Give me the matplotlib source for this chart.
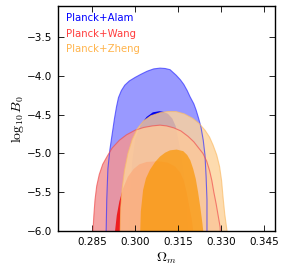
import matplotlib
matplotlib.use('Agg')
import matplotlib.pyplot as plt

plt.rcParams['mathtext.fontset'] = 'cm'

# contour boundaries (Omega_m, log10 B0)
alam_2s_x = [0.2899, 0.2899, 0.2901, 0.2905, 0.2912, 0.2920, 0.2928, 0.2935, 0.2942, 0.2952, 0.2964, 0.2980,
             0.3000, 0.3020, 0.3042, 0.3065, 0.3087, 0.3105, 0.3122, 0.3143, 0.3158, 0.3170, 0.3182, 0.3192,
             0.3205, 0.3213, 0.3222, 0.3230, 0.3238, 0.3244, 0.3248, 0.3251, 0.3251, 0.3251]
alam_2s_y = [-6.2, -6.0, -5.6, -5.2, -4.95, -4.75, -4.55, -4.40, -4.28, -4.19, -4.12, -4.065,
             -4.02, -3.98, -3.94, -3.91, -3.90, -3.905, -3.92, -3.99, -4.05, -4.11, -4.19, -4.27,
             -4.36, -4.44, -4.55, -4.66, -4.83, -5.02, -5.3, -5.6, -6.0, -6.2]
alam_1s_x = [0.2978, 0.2978, 0.2982, 0.2990, 0.3000, 0.3018, 0.3040, 0.3062, 0.3085, 0.3100, 0.3115,
             0.3130, 0.3142, 0.3150, 0.3160, 0.3172, 0.3182, 0.3185, 0.3185]
alam_1s_y = [-6.2, -6.0, -5.5, -5.1, -4.82, -4.64, -4.53, -4.47, -4.455, -4.465, -4.49,
             -4.55, -4.65, -4.8, -5.0, -5.3, -5.65, -6.0, -6.2]

wang_2s_x = [0.2850, 0.2853, 0.2856, 0.2860, 0.2866, 0.2875, 0.2887, 0.2902, 0.2920, 0.2945, 0.2970,
             0.3000, 0.3030, 0.3060, 0.3087, 0.3110, 0.3135, 0.3160, 0.3185, 0.3205, 0.3222, 0.3237,
             0.3250, 0.3260, 0.3268, 0.3275, 0.3283, 0.3290, 0.3297, 0.3300]
wang_2s_y = [-6.2, -6.0, -5.8, -5.6, -5.42, -5.27, -5.14, -5.04, -4.93, -4.83, -4.76,
             -4.70, -4.665, -4.645, -4.635, -4.645, -4.67, -4.71, -4.78, -4.85, -4.93, -5.0,
             -5.1, -5.22, -5.35, -5.5, -5.65, -5.8, -5.95, -6.2]
wang_1s_x = [0.2928, 0.2930, 0.2936, 0.2945, 0.2958, 0.2975, 0.2995, 0.3015, 0.3040, 0.3080, 0.3115,
             0.3140, 0.3158, 0.3170, 0.3180, 0.3190, 0.3198, 0.3203, 0.3203]
wang_1s_y = [-6.2, -6.0, -5.8, -5.62, -5.45, -5.3, -5.2, -5.14, -5.11, -5.10, -5.12,
             -5.17, -5.25, -5.35, -5.5, -5.7, -5.85, -6.0, -6.2]

zheng_2s_x = [0.2948, 0.2948, 0.2950, 0.2955, 0.2963, 0.2975, 0.2990, 0.3008, 0.3030, 0.3055, 0.3087,
              0.3115, 0.3143, 0.3172, 0.3202, 0.3225, 0.3244, 0.3260, 0.3272, 0.3285, 0.3295, 0.3302,
              0.3307, 0.3313, 0.3321, 0.3321]
zheng_2s_y = [-6.2, -6.0, -5.7, -5.45, -5.22, -5.0, -4.82, -4.68, -4.58, -4.515, -4.475,
              -4.46, -4.46, -4.49, -4.55, -4.62, -4.70, -4.79, -4.89, -5.02, -5.17, -5.35,
              -5.56, -5.78, -6.0, -6.2]
zheng_1s_x = [0.3018, 0.3018, 0.3020, 0.3028, 0.3038, 0.3052, 0.3070, 0.3087, 0.3105, 0.3122, 0.3145,
              0.3168, 0.3182, 0.3193, 0.3203, 0.3212, 0.3220, 0.3228, 0.3235, 0.3238, 0.3238]
zheng_1s_y = [-6.2, -6.0, -5.75, -5.47, -5.32, -5.21, -5.11, -5.04, -4.99, -4.96, -4.95,
              -4.97, -5.02, -5.09, -5.2, -5.33, -5.5, -5.7, -5.9, -6.0, -6.2]

labels = ['Planck+Alam', 'Planck+Wang', 'Planck+Zheng']
label_colors = ['#0000ff', '#ff3c3c', '#ffb44c']

fig = plt.figure(figsize=(2.86, 2.76), dpi=100)
ax = fig.add_axes([0.203, 0.163, 0.758, 0.815])

# (outer x, outer y, inner x, inner y, outer fill, inner fill, edge, outer alpha, inner alpha)
sets = [
    (alam_2s_x, alam_2s_y, alam_1s_x, alam_1s_y, '#9999ff', '#0000ee', '#3333ff', 1.0, 1.0),
    (wang_2s_x, wang_2s_y, wang_1s_x, wang_1s_y, '#f39595', '#f01010', '#f05050', 0.85, 0.9),
    (zheng_2s_x, zheng_2s_y, zheng_1s_x, zheng_1s_y, '#fdd39c', '#fa9600', '#fbbd6a', 0.82, 0.7),
]
for ox, oy, ix, iy, c_out, c_in, c_edge, a_out, a_in in sets:
    ax.fill(ox, oy, color=c_out, alpha=a_out, lw=0)
    ax.fill(ix, iy, color=c_in, alpha=a_in, lw=0)
for ox, oy, ix, iy, c_out, c_in, c_edge, a_out, a_in in sets:
    ax.plot(ox, oy, color=c_edge, alpha=0.7, lw=0.8)

ax.set_xlim(0.2731, 0.3488)
ax.set_ylim(-6.0, -3.1)
ax.set_xticks([0.285, 0.300, 0.315, 0.330, 0.345])
ax.set_yticks([-6.0, -5.5, -5.0, -4.5, -4.0, -3.5])
ax.set_xticklabels(['0.285', '0.300', '0.315', '0.330', '0.345'])
ax.tick_params(direction='in', top=True, right=True, labelsize=7.5, length=4, width=0.6, pad=4)
for s in ax.spines.values():
    s.set_linewidth(1.0)

ax.set_xlabel(r'$\Omega_m$', fontsize=10, labelpad=3)
ax.set_ylabel(r'$\log_{10}B_0$', fontsize=10, labelpad=1)

for i, (lab, col) in enumerate(zip(labels, label_colors)):
    ax.text(0.035, 0.945 - i * 0.067, lab, color=col, fontsize=7.3,
            transform=ax.transAxes, va='center', ha='left')

fig.savefig('out.png', dpi=100)
